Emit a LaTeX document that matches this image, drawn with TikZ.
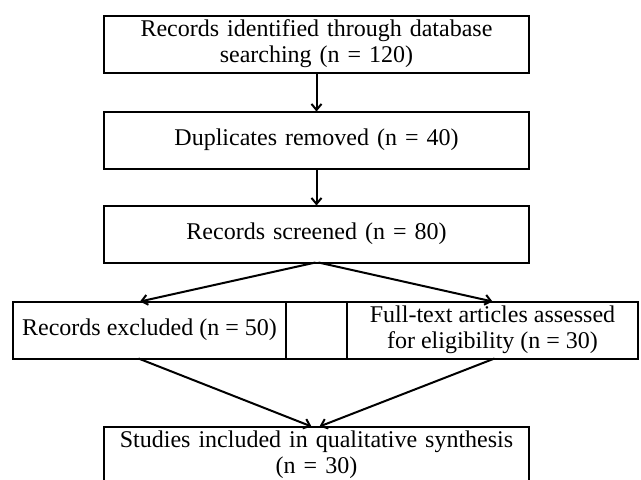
\documentclass[tikz,border=0pt]{standalone}
\usepackage{fontspec}
\setmainfont{Liberation Serif}
\usetikzlibrary{arrows.meta}
\usetikzlibrary{positioning}

\begin{document}
\begin{tikzpicture}[x=1pt, y=1pt,
        every node/.style={font=\fontsize{24}{26}\selectfont},
        box/.style={draw, line width=2pt, outer sep=0pt, align=center, minimum height=57pt},
        wide/.style={box, text width=405pt, inner xsep=10pt},
        link/.style={line width=2pt, -{Straight Barb[length=6pt,width=10pt]}}]
      \useasboundingbox (0,0) rectangle (641,-480);

      \node [wide] (ident) at (316.5,-44) {Records identified through database\\searching (n = 120)};
      \node [wide, below=39pt of ident] (dupl) {Duplicates removed (n = 40)};
      \node [wide, below=37pt of dupl] (screen) {Records screened (n = 80)};

      \node [box, minimum width=61pt, below=39pt of screen] (gap) {};
      \node [box, minimum width=273pt, left=0pt of gap] (excl) {Records excluded (n = 50)};
      \node [box, minimum width=291pt, right=0pt of gap] (full) {Full-text articles assessed\\for eligibility (n = 30)};

      \node [wide, below=68pt of gap] (incl) {Studies included in qualitative synthesis\\(n = 30)};

      \draw [link] (ident) -- (dupl);
      \draw [link] (dupl) -- (screen);
      \draw [link] ([xshift=-1pt]screen.south) -- ([xshift=-9.5pt]excl.north);
      \draw [link] ([xshift=2pt]screen.south) -- (full.north);
      \draw [link] ([xshift=-11pt]excl.south) -- ([xshift=-5pt]incl.north);
      \draw [link] ([xshift=2pt]full.south) -- ([xshift=3pt]incl.north);
\end{tikzpicture}
\end{document}
